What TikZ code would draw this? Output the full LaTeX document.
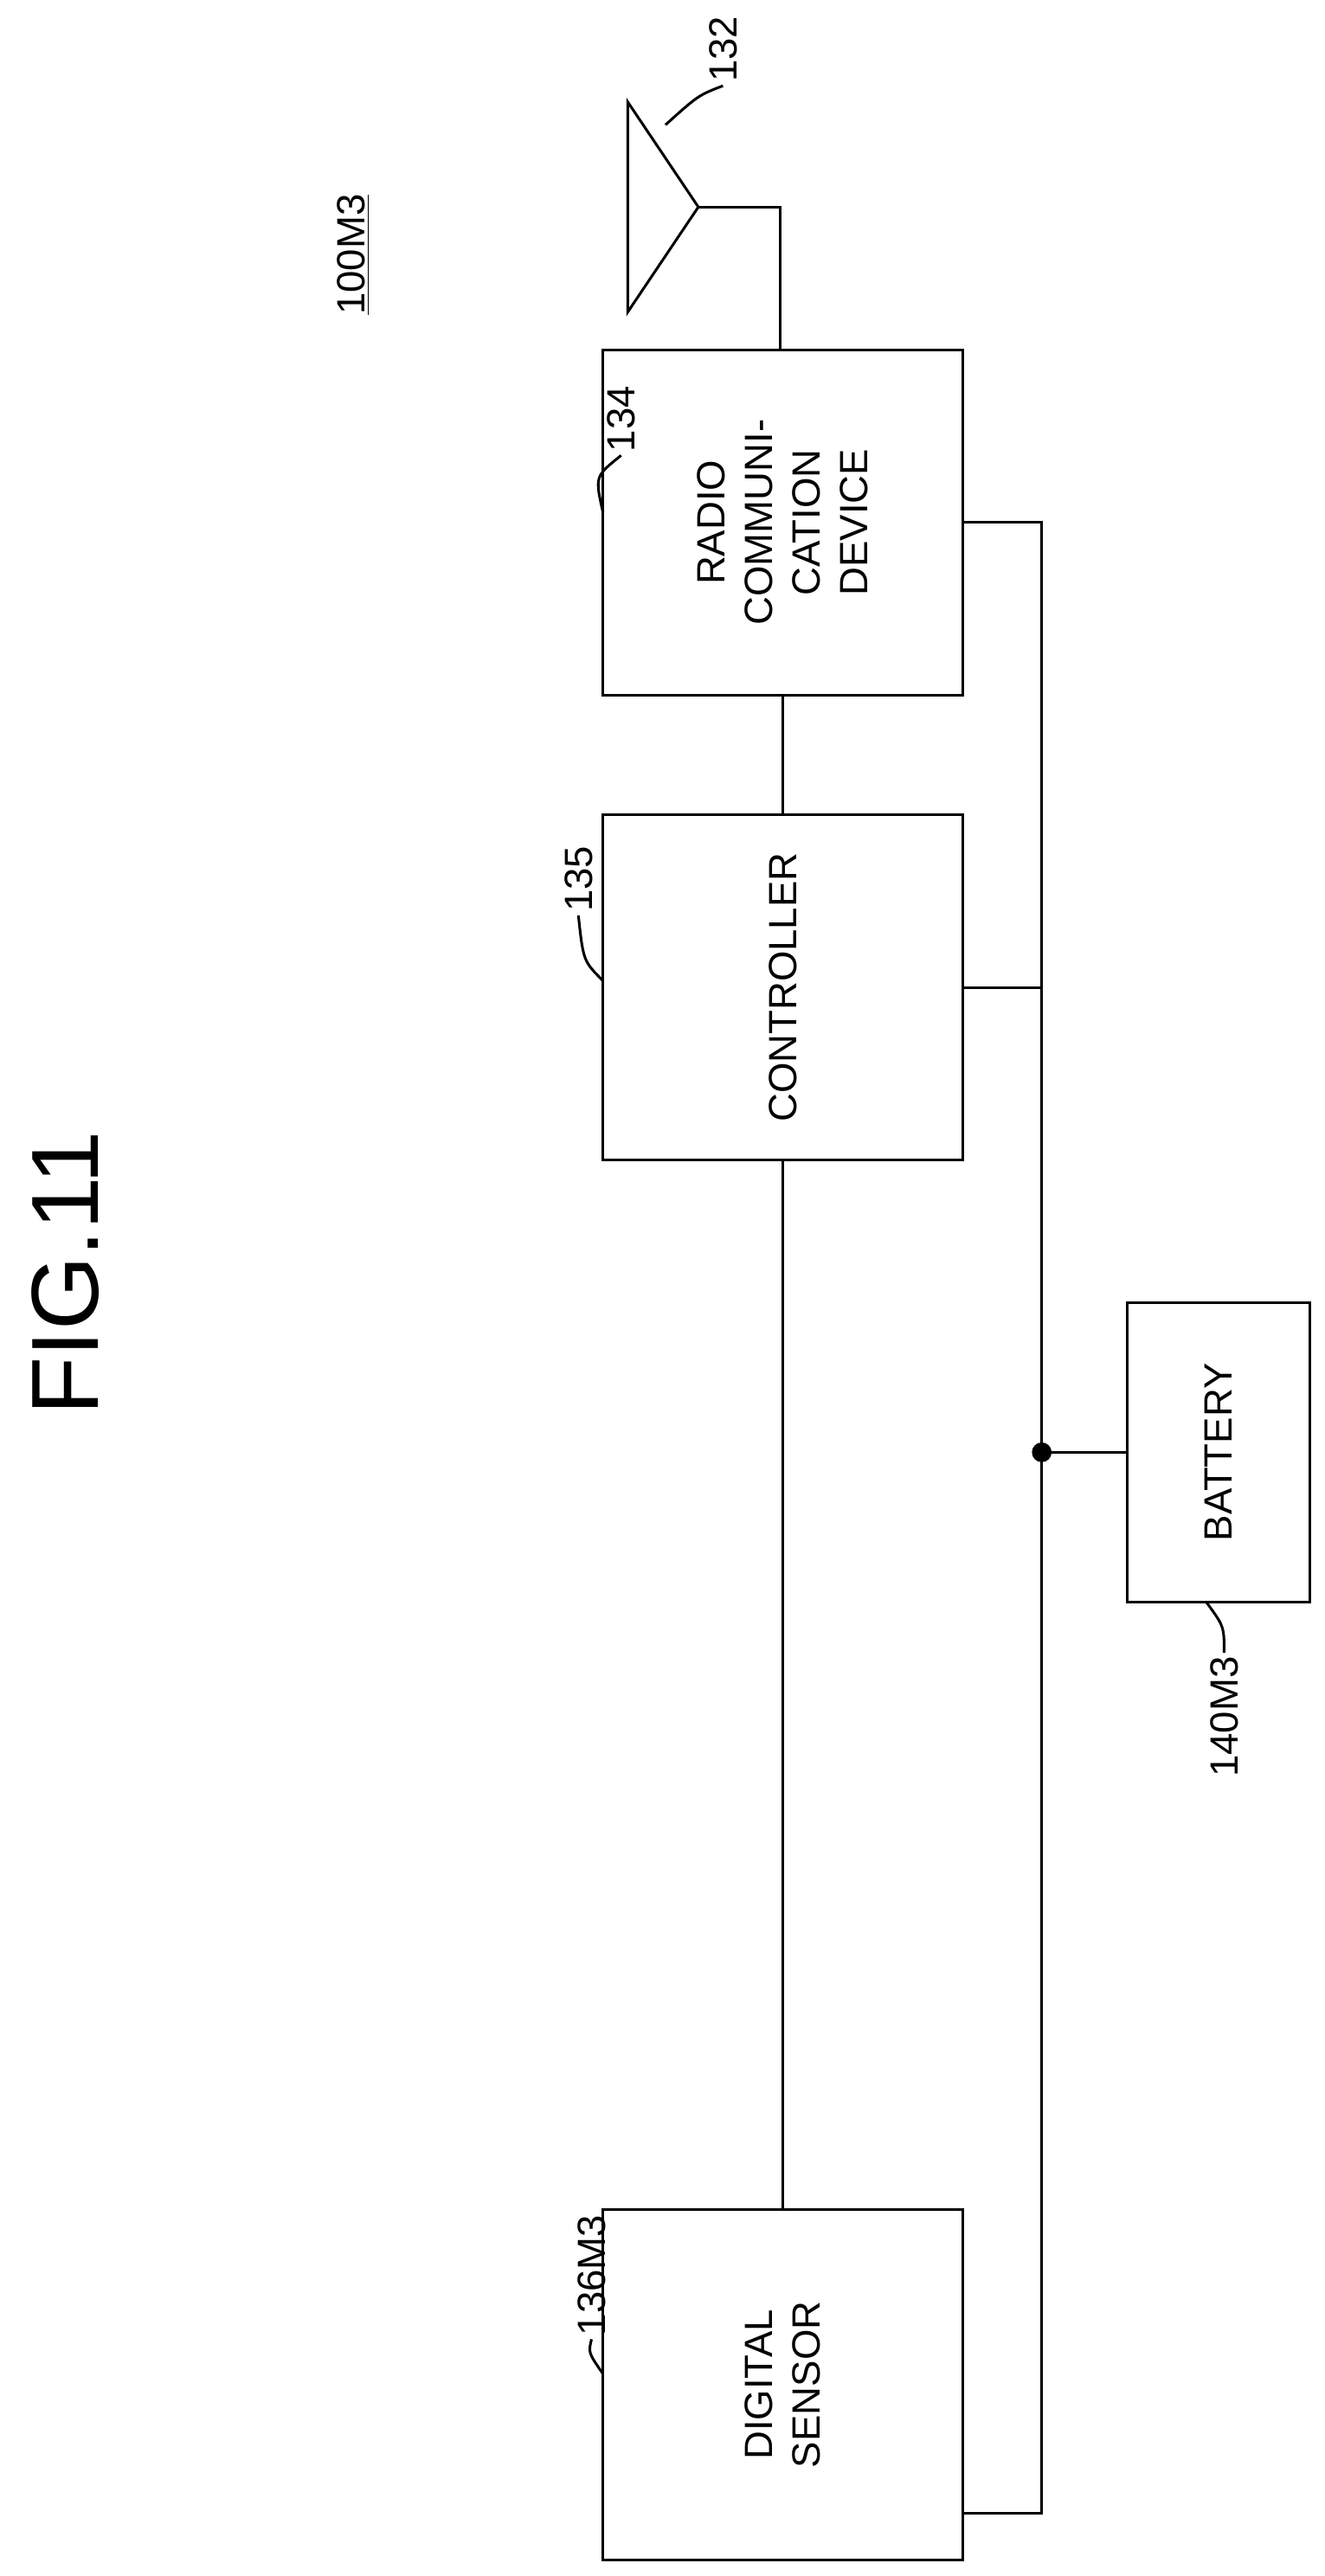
\documentclass[tikz,border=0pt]{standalone}
\usepackage{fontspec}
\setmainfont{Liberation Sans}
\usetikzlibrary{positioning}
\tikzset{
  box/.style={draw,line width=1.6pt,minimum width=219pt},
  txt/.style={rotate=90,align=center,font=\fontsize{24}{29}\selectfont},
  ref/.style={rotate=90,font=\fontsize{24}{29}\selectfont,inner sep=2pt},
  wire/.style={line width=1.6pt},
  dot/.style={circle,fill,inner sep=0pt,minimum size=12pt}
}
\begin{document}
\begin{tikzpicture}[x=1pt,y=1pt]
\useasboundingbox (0,0) rectangle (806,-1568);
% title and reference
\node[rotate=90,font=\fontsize{58}{64}\selectfont] (fig) at (40,-775) {FIG.11};
\node[ref] (dev) at (215,-155) {\underline{100M3}};
% blocks
\node[box,minimum height=210pt] (radio) at (476.5,-318) {};
\node[txt] at (radio) {RADIO\\COMMUNI-\\CATION\\DEVICE};
\node[box,minimum height=210pt] (ctrl) at (476.5,-601) {};
\node[txt] at (ctrl) {CONTROLLER};
\node[box,minimum height=213pt] (sensor) at (476.5,-1451.5) {};
\node[txt] at (sensor) {DIGITAL\\SENSOR};
\node[box,minimum width=111pt,minimum height=182pt] (batt) at (741.5,-884) {};
\node[txt] at (batt) {BATTERY};
% antenna
\coordinate (ap) at (425,-126);
\draw[wire] (382,-62) -- (ap) -- (382,-190) -- cycle;
\draw[wire] (ap) -- (475,-126) -- (radio.north -| 475,0);
% signal line
\draw[wire] (radio.south) -- (ctrl.north);
\draw[wire] (ctrl.south) -- (sensor.north);
% power bus
\coordinate (bt) at (634,-318);
\coordinate (bb) at (634,-1530);
\draw[wire] (radio.east) -- (bt) -- (bb) -- (bb -| sensor.east);
\draw[wire] (ctrl.east) -- (ctrl.east -| bt);
\draw[wire] (batt.west) -- (batt.west -| bt) node[dot] (jn) {};
% reference numerals
\node[ref] (n132) at (440,-30) {132};
\draw[wire] (n132.west) .. controls (425,-58) .. (405,-76);
\node[ref] (n134) at (378,-255) {134};
\draw[wire] (n134.west) .. controls (362,-290) .. (367,-312);
\node[ref] (n135) at (352,-535) {135};
\draw[wire] (n135.west) .. controls (355,-585) .. (367,-597);
\node[ref] (n136) at (360,-1385) {136M3};
\draw[wire] (n136.west) .. controls (358,-1432) .. (367,-1445);
\node[ref] (n140) at (745,-1045) {140M3};
\draw[wire] (n140.east) .. controls (745,-990) .. (734,-975);
\end{tikzpicture}
\end{document}
